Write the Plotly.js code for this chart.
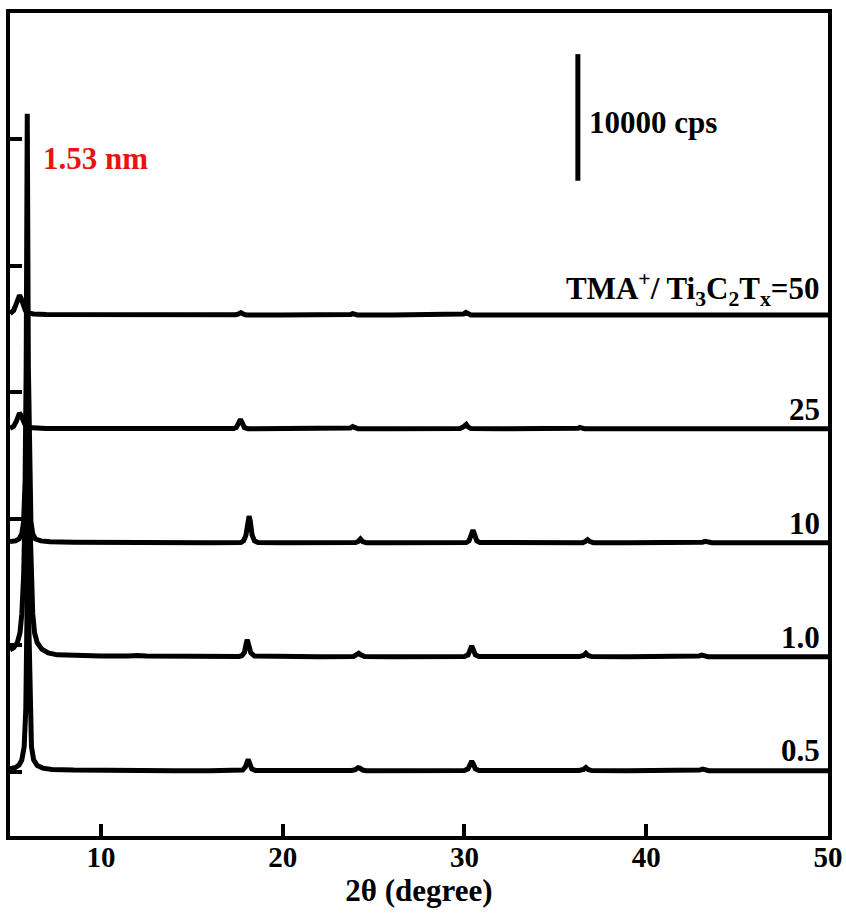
<!DOCTYPE html>
<html>
<head>
<meta charset="utf-8">
<script src="https://cdn.plot.ly/plotly-3.0.1.min.js"></script>
<style>html,body{margin:0;padding:0;background:#fff;}#chart{width:846px;height:917px;}</style>
</head>
<body>
<div id="chart"></div>
<script>
// ---- data (2θ in degrees, intensity in cps) ----
const SERIES_LABELS = ["0.5", "1.0", "10", "25", "TMA<sup>+</sup>/ Ti<sub>3</sub>C<sub>2</sub>T<sub>x</sub>=50"];
const SERIES_OFFSETS = [0, 9000, 18000, 27000, 36000];

const X_05 = [5.0,5.3,5.5,5.65,5.78,5.87,5.93,5.98,6.03,6.09,6.18,6.3,6.5,6.8,7.3,8.5,10,12,14,16,17.6,
  17.8,17.95,18.05,18.1,18.18,18.3,18.5,20,22,23.8,24.0,24.15,24.25,24.4,24.6,26,28,30.0,
  30.2,30.32,30.4,30.48,30.6,30.8,32,34,36.3,36.55,36.68,36.8,37.0,39,41,42.8,42.95,43.1,43.25,43.45,45,47,50];
const Y_05 = [250,350,550,950,2000,5000,12000,28000,12000,5000,2000,950,500,300,200,150,120,110,100,100,110,
  150,400,850,1000,700,250,120,100,100,110,180,330,300,150,100,100,100,120,
  250,650,850,650,250,120,100,100,110,200,350,200,110,100,100,100,150,230,150,100,100,100,100];

const X_10 = [5.0,5.2,5.4,5.55,5.65,5.75,5.85,5.95,6.05,6.15,6.25,6.35,6.5,6.75,7.1,7.6,8.5,10,11.5,12,12.5,14,16,17.6,
  17.75,17.9,18.0,18.05,18.12,18.25,18.45,20,22,23.9,24.05,24.18,24.3,24.5,26,28,30.0,
  30.2,30.32,30.4,30.48,30.6,30.8,32,34,36.3,36.55,36.68,36.8,37.0,39,41,42.8,42.9,43.05,43.2,43.4,45,47,50];
const Y_10 = [650,800,1200,2000,3500,6500,13000,24000,13000,6500,3500,2000,1200,700,400,250,180,150,150,200,150,120,110,120,
  180,450,1200,1450,1100,400,150,110,100,110,200,380,250,110,100,100,120,
  250,700,950,700,250,120,100,100,110,200,380,200,110,100,100,100,150,230,150,100,100,100,100];

const X_100 = [5.0,5.3,5.5,5.65,5.75,5.83,5.89,5.95,6.01,6.07,6.15,6.25,6.4,6.7,7.2,8.5,10,12,14,16,17.7,
  17.85,17.98,18.08,18.15,18.22,18.32,18.45,18.65,20,22,24.0,24.15,24.28,24.4,24.6,26,28,30.1,
  30.25,30.37,30.47,30.56,30.68,30.85,32,34,36.5,36.65,36.78,36.9,37.1,39,41,43.0,43.1,43.25,43.4,43.6,45,47,50];
const Y_100 = [200,250,400,800,1800,5000,14000,34000,14000,5000,1800,800,400,250,180,140,120,110,100,100,120,
  250,700,1800,2200,1800,700,250,120,100,100,120,200,400,200,110,100,100,120,
  250,750,1100,750,250,120,100,100,110,200,350,200,110,100,100,100,150,220,140,100,100,100,100];

const X_250 = [5.0,5.2,5.35,5.45,5.52,5.6,5.72,5.85,6.0,6.3,7,9,12,15,17.3,
  17.45,17.58,17.68,17.78,17.9,18.1,20,22,23.6,23.72,23.85,23.98,24.15,26,28,29.75,
  29.9,30.02,30.1,30.2,30.35,32,34,36.1,36.25,36.35,36.45,36.6,39,41,42.6,42.7,42.8,42.9,43.05,45,47,50];
const Y_250 = [150,300,700,1200,1350,1200,700,350,200,150,130,120,110,100,120,
  200,550,850,550,200,110,100,100,110,160,280,160,100,100,100,120,
  220,420,450,250,120,100,100,100,140,220,140,100,100,100,100,130,180,130,100,100,100,100];

const X_500 = [5.0,5.2,5.35,5.45,5.52,5.6,5.72,5.85,6.0,6.3,7,9,12,15,17.4,
  17.55,17.7,17.85,18.0,20,22,23.65,23.75,23.85,23.95,24.1,26,28,29.85,
  29.95,30.08,30.2,30.35,32,34,36,38,40,42,44,46,48,50];
const Y_500 = [200,450,1000,1500,1650,1450,900,450,250,170,140,120,110,100,110,
  160,280,160,100,100,100,100,140,200,140,100,100,100,110,
  170,300,170,100,100,100,100,100,100,100,100,100,100,100];

const SERIES_X = [X_05, X_10, X_100, X_250, X_500];
const SERIES_Y = [Y_05, Y_10, Y_100, Y_250, Y_500];

const X_TICKS = [10, 20, 30, 40, 50];
const SCALE_BAR_CPS = 10000;
const D_SPACING_LABEL = "1.53 nm";

// ---- build ----
const FAMILY = "Liberation Serif, 'Times New Roman', serif";
const FONT = {family: FAMILY, size: 31, color: "#000", weight: "bold"};
const TICKFONT = {family: FAMILY, size: 29, color: "#000", weight: "bold"};
const traces = SERIES_Y.map((ys, i) => ({
  type: "scatter", mode: "lines",
  x: SERIES_X[i],
  y: ys.map(v => v + SERIES_OFFSETS[i]),
  line: {color: "#000", width: 5},
  hoverinfo: "skip", showlegend: false
}));

const annotations = SERIES_LABELS.map((t, i) => ({
  text: t, x: 49.65, xref: "x", xanchor: "right",
  y: SERIES_OFFSETS[i], yref: "y", yanchor: "middle",
  yshift: i === 4 ? 27 : 21,
  showarrow: false, font: FONT
}));
annotations.push({
  text: D_SPACING_LABEL, x: 6.7, xref: "x", xanchor: "left",
  y: 48420, yref: "y", yanchor: "middle", showarrow: false,
  font: Object.assign({}, FONT, {color: "rgb(232,20,20)"})
});
const barTop = 56700, barBottom = barTop - SCALE_BAR_CPS;
annotations.push({
  text: SCALE_BAR_CPS + " cps", x: 36.75, xref: "x", xanchor: "left",
  y: 51340, yref: "y", yanchor: "middle", showarrow: false, font: FONT
});

const layout = {
  width: 846, height: 917,
  margin: {l: 10, r: 18, t: 13, b: 81},
  paper_bgcolor: "#fff", plot_bgcolor: "#fff",
  font: FONT,
  xaxis: {
    range: [5, 50], tickvals: X_TICKS, ticktext: X_TICKS.map(String),
    ticks: "inside", ticklen: 12, tickwidth: 4, tickcolor: "#000",
    ticklabelstandoff: -8,
    showline: true, linewidth: 4, linecolor: "#000", mirror: true,
    showgrid: false, zeroline: false,
    tickfont: TICKFONT,
    title: {text: "2θ (degree)", font: FONT, standoff: 2}
  },
  yaxis: {
    range: [-5060, 59950], tick0: 0, dtick: 10000,
    ticks: "inside", ticklen: 12, tickwidth: 4, tickcolor: "#000",
    showticklabels: false,
    showline: true, linewidth: 4, linecolor: "#000", mirror: true,
    showgrid: false, zeroline: false
  },
  shapes: [{
    type: "line", xref: "x", yref: "y",
    x0: 36.24, x1: 36.24, y0: barBottom, y1: barTop,
    line: {color: "#000", width: 5}
  }],
  annotations: annotations
};

Plotly.newPlot("chart", traces, layout, {displayModeBar: false, staticPlot: true});
</script>
</body>
</html>
